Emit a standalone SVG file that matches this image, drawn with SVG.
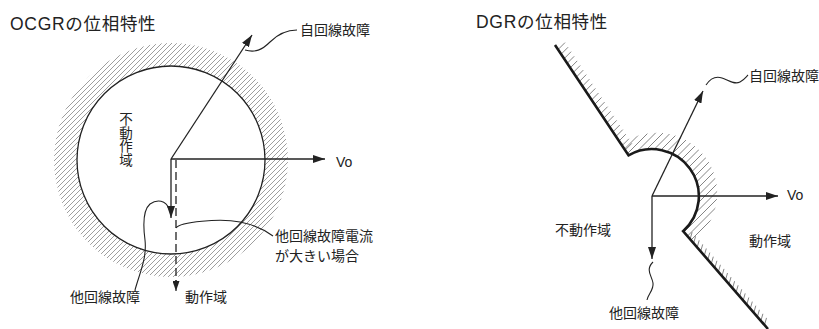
<svg xmlns="http://www.w3.org/2000/svg" width="819" height="329" viewBox="0 0 819 329">
<style>
.t{font-family:"Liberation Sans","Noto Sans CJK JP",sans-serif;fill:#222}
.ti{font-family:"Liberation Sans","Noto Sans CJK JP",sans-serif;font-size:17.5px;letter-spacing:0.7px;fill:#222}
.j{font-family:"Noto Sans CJK JP","Liberation Sans",sans-serif;font-size:14px;fill:#222}
.v{font-family:"Noto Sans CJK JP","Liberation Sans",sans-serif;font-size:13.5px;fill:#222;writing-mode:vertical-rl;letter-spacing:0.3px}
.ln{stroke:#222;stroke-width:1.3;fill:none}
.ar{stroke:#222;stroke-width:1.3;fill:none;marker-end:url(#ah)}
.ld{stroke:#222;stroke-width:1.1;fill:none}
.bd{stroke:#1a1a1a;stroke-width:2.6;fill:none;stroke-linejoin:miter}
.tk{stroke:#777;stroke-width:0.9;fill:none}
.hr{stroke:#8c8c8c;stroke-width:0.85;fill:none}
</style>
<defs>
<marker id="ah" viewBox="0 0 12 8" refX="12" refY="4" markerWidth="12" markerHeight="8" markerUnits="userSpaceOnUse" orient="auto">
<path d="M0,0 L12,4 L0,8 z" fill="#222"/>
</marker>
<marker id="ahs" viewBox="0 0 10 7" refX="10" refY="3.5" markerWidth="10" markerHeight="7" markerUnits="userSpaceOnUse" orient="auto">
<path d="M0,0 L10,3.5 L0,7 z" fill="#222"/>
</marker>
<clipPath id="ring">
<path d="M54,160 A117,117 0 1 0 288,160 A117,117 0 1 0 54,160 Z M77,160 A94,94 0 1 0 265,160 A94,94 0 1 0 77,160 Z" clip-rule="evenodd"/>
</clipPath>
<clipPath id="arcband">
<path d="M628.5,155.3 A47,47 0 0 1 683.1,231.2 L692,242 A60,60 0 0 0 622,144 Z"/>
</clipPath>
</defs>

<g id="ocgr">
<text class="ti" x="10" y="30">OCGRの位相特性</text>
<g id="ocgr-ring">
<path class="hr" clip-path="url(#ring)" d="M-125 290l260-260M-120 290l260-260M-115 290l260-260M-110 290l260-260M-105 290l260-260M-100 290l260-260M-95 290l260-260M-90 290l260-260M-85 290l260-260M-80 290l260-260M-75 290l260-260M-70 290l260-260M-65 290l260-260M-60 290l260-260M-55 290l260-260M-50 290l260-260M-45 290l260-260M-40 290l260-260M-35 290l260-260M-30 290l260-260M-25 290l260-260M-20 290l260-260M-15 290l260-260M-10 290l260-260M-5 290l260-260M0 290l260-260M5 290l260-260M10 290l260-260M15 290l260-260M20 290l260-260M25 290l260-260M30 290l260-260M35 290l260-260M40 290l260-260M45 290l260-260M50 290l260-260M55 290l260-260M60 290l260-260M65 290l260-260M70 290l260-260M75 290l260-260M80 290l260-260M85 290l260-260M90 290l260-260M95 290l260-260M100 290l260-260M105 290l260-260M110 290l260-260M115 290l260-260M120 290l260-260M125 290l260-260M130 290l260-260M135 290l260-260M140 290l260-260M145 290l260-260M150 290l260-260M155 290l260-260M160 290l260-260M165 290l260-260M170 290l260-260M175 290l260-260M180 290l260-260M185 290l260-260M190 290l260-260M195 290l260-260M200 290l260-260M205 290l260-260"/>
<circle cx="171" cy="160" r="94" class="ln"/>
</g>
<g id="ocgr-connectors">
<line class="ar" x1="171" y1="159" x2="252" y2="35"/>
<line class="ar" x1="171" y1="159" x2="325" y2="159"/>
<line class="ar" x1="171" y1="159" x2="171" y2="218"/>
<line class="ln" x1="176" y1="160" x2="176" y2="282" stroke-dasharray="8 4"/>
<line class="ld" x1="176" y1="280" x2="176" y2="291" marker-end="url(#ahs)"/>
<path class="ld" d="M245,50 C255,53 262,50 270,42 C278,34 286,30 297,30"/>
<path class="ld" d="M135,290 C140,272 147,258 145,240 C143,225 143,210 150,204 C157,199 166,200 169,209"/>
<path class="ld" d="M176,228 C180,222 220,218 240,222 C255,225 265,230 273,236"/>
</g>
<g id="ocgr-labels">
<text class="j" x="300" y="34.5">自回線故障</text>
<text class="v" x="126" y="112">不動作域</text>
<text class="t" x="336" y="167" font-size="14">Vo</text>
<text class="j" x="275" y="241" font-size="13.8">他回線故障電流</text>
<text class="j" x="275" y="261" font-size="13.8">が大きい場合</text>
<text class="j" x="70" y="302">他回線故障</text>
<text class="j" x="185" y="302">動作域</text>
</g>
</g>

<g id="dgr">
<text class="ti" x="476" y="28">DGRの位相特性</text>
<g id="dgr-boundary">
<path class="tk" clip-path="url(#arcband)" d="M506 260l140-140M513.5 260l140-140M521 260l140-140M528.5 260l140-140M536 260l140-140M543.5 260l140-140M551 260l140-140M558.5 260l140-140M566 260l140-140M573.5 260l140-140M581 260l140-140M588.5 260l140-140M596 260l140-140M603.5 260l140-140M611 260l140-140M618.5 260l140-140M626 260l140-140M633.5 260l140-140M641 260l140-140M648.5 260l140-140M656 260l140-140M663.5 260l140-140M671 260l140-140M678.5 260l140-140"/>
<path class="tk" d="M558,49.6 l7,-7 M561.1,54.2 l7,-7 M564.1,58.7 l7,-7 M567.2,63.3 l7,-7 M570.2,67.9 l7,-7 M573.2,72.5 l7,-7 M576.3,77.1 l7,-7 M579.3,81.6 l7,-7 M582.4,86.2 l7,-7 M585.4,90.8 l7,-7 M588.4,95.4 l7,-7 M591.5,100 l7,-7 M594.5,104.5 l7,-7 M597.6,109.1 l7,-7 M600.6,113.7 l7,-7 M603.6,118.3 l7,-7 M606.7,122.9 l7,-7 M609.7,127.4 l7,-7 M612.8,132 l7,-7 M615.8,136.6 l7,-7 M618.8,141.2 l7,-7 M621.9,145.8 l7,-7 M624.9,150.3 l7,-7"/>
<path class="tk" d="M690.1,239.2 l2,-7 M693.6,243.3 l2,-7 M697.2,247.3 l2,-7 M700.7,251.4 l2,-7 M704.3,255.5 l2,-7 M707.8,259.6 l2,-7 M711.3,263.7 l2,-7 M714.9,267.8 l2,-7 M718.4,271.8 l2,-7 M722,275.9 l2,-7 M725.5,280 l2,-7 M729,284.1 l2,-7 M732.6,288.2 l2,-7 M736.1,292.3 l2,-7 M739.7,296.3 l2,-7 M743.2,300.4 l2,-7 M746.8,304.5 l2,-7 M750.3,308.6 l2,-7 M753.8,312.7 l2,-7 M757.4,316.8 l2,-7 M760.9,320.8 l2,-7 M764.5,324.9 l2,-7"/>
<path class="bd" d="M555,45 L628.5,155.3 A47,47 0 0 1 683.1,231.2 L768,329"/>
</g>
<g id="dgr-connectors">
<line class="ar" x1="652" y1="196" x2="703" y2="91"/>
<line class="ar" x1="652" y1="196" x2="778" y2="196"/>
<line class="ar" x1="652" y1="196" x2="652" y2="259"/>
<path class="ld" d="M706,85 C710,79 716,76 722,78 C728,80 734,85 740,82 C744,80 746,77 748,75"/>
<path class="ld" d="M653,262 C645,270 652,276 653,283 C654,290 648,294 647,300"/>
</g>
<g id="dgr-labels">
<text class="j" x="749" y="81">自回線故障</text>
<text class="t" x="787" y="200" font-size="14">Vo</text>
<text class="j" x="555" y="234.5">不動作域</text>
<text class="j" x="749" y="246">動作域</text>
<text class="j" x="609" y="318">他回線故障</text>
</g>
</g>
</svg>
